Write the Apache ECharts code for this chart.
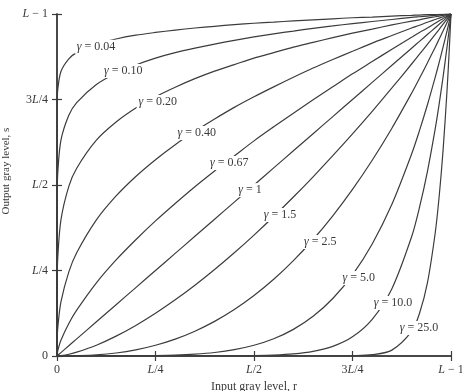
<!DOCTYPE html>
<html><head><meta charset="utf-8">
<script src="https://cdn.jsdelivr.net/npm/echarts@6/dist/echarts.min.js"></script>
<style>html,body{margin:0;padding:0;background:#fff}#c{width:462px;height:391px}</style>
</head><body><div id="c"></div>
<script>
// input level r / (L-1)
const inputLevels = [0, 0.0005, 0.002, 0.01, 0.03, 0.05, 0.1, 0.15, 0.2, 0.25, 0.3, 0.35, 0.4, 0.45, 0.5, 0.55, 0.6, 0.65, 0.7, 0.75, 0.8, 0.85, 0.9, 0.92, 0.94, 0.96, 0.97, 0.98, 0.99, 0.995, 1];
const gammaNames = ['0.04', '0.10', '0.20', '0.40', '0.67', '1', '1.5', '2.5', '5.0', '10.0', '25.0'];
// output level s / (L-1)
const sG004 = [0, 0.738, 0.780, 0.832, 0.869, 0.887, 0.912, 0.927, 0.938, 0.946, 0.953, 0.959, 0.964, 0.969, 0.973, 0.976, 0.980, 0.983, 0.986, 0.989, 0.991, 0.994, 0.996, 0.997, 0.998, 0.998, 0.999, 0.999, 1.0, 1.0, 1];
const sG010 = [0, 0.468, 0.537, 0.631, 0.704, 0.741, 0.794, 0.827, 0.851, 0.871, 0.887, 0.900, 0.912, 0.923, 0.933, 0.942, 0.950, 0.958, 0.965, 0.972, 0.978, 0.984, 0.990, 0.992, 0.994, 0.996, 0.997, 0.998, 0.999, 0.9995, 1];
const sG020 = [0, 0.219, 0.289, 0.398, 0.496, 0.549, 0.631, 0.684, 0.725, 0.758, 0.786, 0.811, 0.833, 0.852, 0.871, 0.887, 0.903, 0.917, 0.931, 0.944, 0.956, 0.968, 0.979, 0.983, 0.988, 0.992, 0.994, 0.996, 0.998, 0.999, 1];
const sG040 = [0, 0.048, 0.083, 0.158, 0.246, 0.302, 0.398, 0.468, 0.525, 0.574, 0.618, 0.657, 0.693, 0.727, 0.758, 0.787, 0.815, 0.842, 0.867, 0.891, 0.915, 0.937, 0.959, 0.967, 0.976, 0.984, 0.988, 0.992, 0.996, 0.998, 1];
const sG067 = [0, 0.006, 0.016, 0.046, 0.095, 0.134, 0.214, 0.281, 0.340, 0.395, 0.446, 0.495, 0.541, 0.585, 0.629, 0.670, 0.710, 0.749, 0.787, 0.825, 0.861, 0.897, 0.932, 0.946, 0.959, 0.973, 0.980, 0.987, 0.993, 0.997, 1];
const sG1 = [0, 0.0005, 0.002, 0.01, 0.03, 0.05, 0.1, 0.15, 0.2, 0.25, 0.3, 0.35, 0.4, 0.45, 0.5, 0.55, 0.6, 0.65, 0.7, 0.75, 0.8, 0.85, 0.9, 0.92, 0.94, 0.96, 0.97, 0.98, 0.99, 0.995, 1];
const sG15 = [0, 0, 0.0001, 0.001, 0.0052, 0.0112, 0.0316, 0.0581, 0.0894, 0.125, 0.1643, 0.2071, 0.253, 0.3019, 0.3536, 0.4079, 0.4648, 0.524, 0.5857, 0.6495, 0.7155, 0.7837, 0.8538, 0.8824, 0.9114, 0.9406, 0.9553, 0.9702, 0.985, 0.9925, 1];
const sG25 = [0, 0, 0, 0, 0.0002, 0.0006, 0.0032, 0.0087, 0.0179, 0.0313, 0.0493, 0.0725, 0.1012, 0.1358, 0.1768, 0.2243, 0.2789, 0.3406, 0.41, 0.4871, 0.5724, 0.6661, 0.7684, 0.8119, 0.8567, 0.903, 0.9267, 0.9507, 0.9752, 0.9875, 1];
const sG5 = [0, 0, 0, 0, 0, 0, 0.00001, 0.0001, 0.0003, 0.001, 0.0024, 0.0053, 0.0102, 0.0185, 0.0313, 0.0503, 0.0778, 0.116, 0.1681, 0.2373, 0.3277, 0.4437, 0.5905, 0.6591, 0.7339, 0.8154, 0.8587, 0.9039, 0.951, 0.9752, 1];
const sG10 = [0, 0, 0, 0, 0, 0, 0, 0, 0, 0, 0, 0, 0.0001, 0.0003, 0.001, 0.0025, 0.006, 0.0135, 0.0283, 0.0563, 0.1074, 0.1969, 0.3487, 0.4344, 0.5386, 0.6648, 0.7374, 0.8171, 0.9044, 0.9511, 1];
const sG250 = [0, 0, 0, 0, 0, 0, 0, 0, 0, 0, 0, 0, 0, 0, 0, 0, 0, 0, 0.0001, 0.0008, 0.0038, 0.0172, 0.0718, 0.1244, 0.2129, 0.3605, 0.467, 0.6034, 0.7778, 0.8822, 1];
const outputSeries = [sG004, sG010, sG020, sG040, sG067, sG1, sG15, sG25, sG5, sG10, sG250];
const xTickLabels = ['0', '{i|L}/4', '{i|L}/2', '3{i|L}/4', '{i|L} − 1'];
const yTickLabels = ['0', '{i|L}/4', '{i|L}/2', '3{i|L}/4', '{i|L} − 1'];

// label anchors (data space) for the gamma annotations
const labelAnchors = [[0.099,0.904],[0.168,0.833],[0.256,0.743],[0.355,0.652],[0.437,0.564],[0.49,0.485],[0.566,0.412],[0.668,0.333],[0.766,0.228],[0.853,0.155],[0.919,0.082]];

const FONT = '"Liberation Serif", "DejaVu Serif", serif';
const TXT = '#3a3a3a';
const LINE = '#3c3c3c';
const FS = 12;
const rich = { i: { fontStyle: 'italic', fontFamily: FONT, fontSize: FS, color: TXT } };
const tickFmt = arr => v => { const k = Math.round(v * 4); return arr[k] !== undefined ? arr[k] : ''; };

const axisCommon = {
  type: 'value', min: 0, max: 1, interval: 0.25,
  axisLine: { show: true, lineStyle: { color: LINE, width: 1.5 } },
  axisTick: { show: true, inside: true, length: 5, lineStyle: { color: LINE, width: 1.2 } },
  splitLine: { show: false }
};

const series = outputSeries.map((ys, k) => ({
  type: 'line', name: gammaNames[k], showSymbol: false, symbol: 'none', smooth: 0.3,
  xAxisIndex: 0, yAxisIndex: 0,
  lineStyle: { color: LINE, width: 1.2 },
  data: inputLevels.map((x, i) => [x, ys[i]]),
  markPoint: {
    symbol: 'circle', symbolSize: 0, silent: true,
    data: [{ coord: labelAnchors[k] }],
    label: {
      show: true, position: 'inside', formatter: '{g|γ} = ' + gammaNames[k],
      fontFamily: FONT, fontSize: FS, color: TXT, backgroundColor: '#fff', padding: [1, 2],
      rich: { g: { fontStyle: 'italic', fontFamily: FONT, fontSize: FS, color: TXT } }
    }
  }
}));

const chart = echarts.init(document.getElementById('c'), null, { renderer: 'canvas' });
chart.setOption({
  animation: false,
  backgroundColor: '#fff',
  grid: { left: 57, right: 11, top: 14, bottom: 35, containLabel: false, outerBoundsMode: 'none' },
  xAxis: [
    Object.assign({}, axisCommon, {
      position: 'bottom',
      axisLabel: { show: true, margin: 8, fontFamily: FONT, fontSize: FS, color: TXT, formatter: tickFmt(xTickLabels), rich: rich, showMaxLabel: true, hideOverlap: false },
      name: 'Input gray level, r', nameLocation: 'middle', nameGap: 20,
      nameTextStyle: { fontFamily: FONT, fontSize: 12, color: TXT }
    }),
    Object.assign({}, axisCommon, { position: 'top', axisLabel: { show: false } })
  ],
  yAxis: [
    Object.assign({}, axisCommon, {
      position: 'left',
      axisLabel: { show: true, margin: 9, fontFamily: FONT, fontSize: FS, color: TXT, formatter: tickFmt(yTickLabels), rich: rich },
      name: 'Output gray level, s', nameLocation: 'middle', nameGap: 37,
      nameTextStyle: { fontFamily: FONT, fontSize: 11, color: TXT, padding: [0, 0, 0, 28] }
    }),
    Object.assign({}, axisCommon, { position: 'right', axisLabel: { show: false } })
  ],
  series: series
});
</script></body></html>
